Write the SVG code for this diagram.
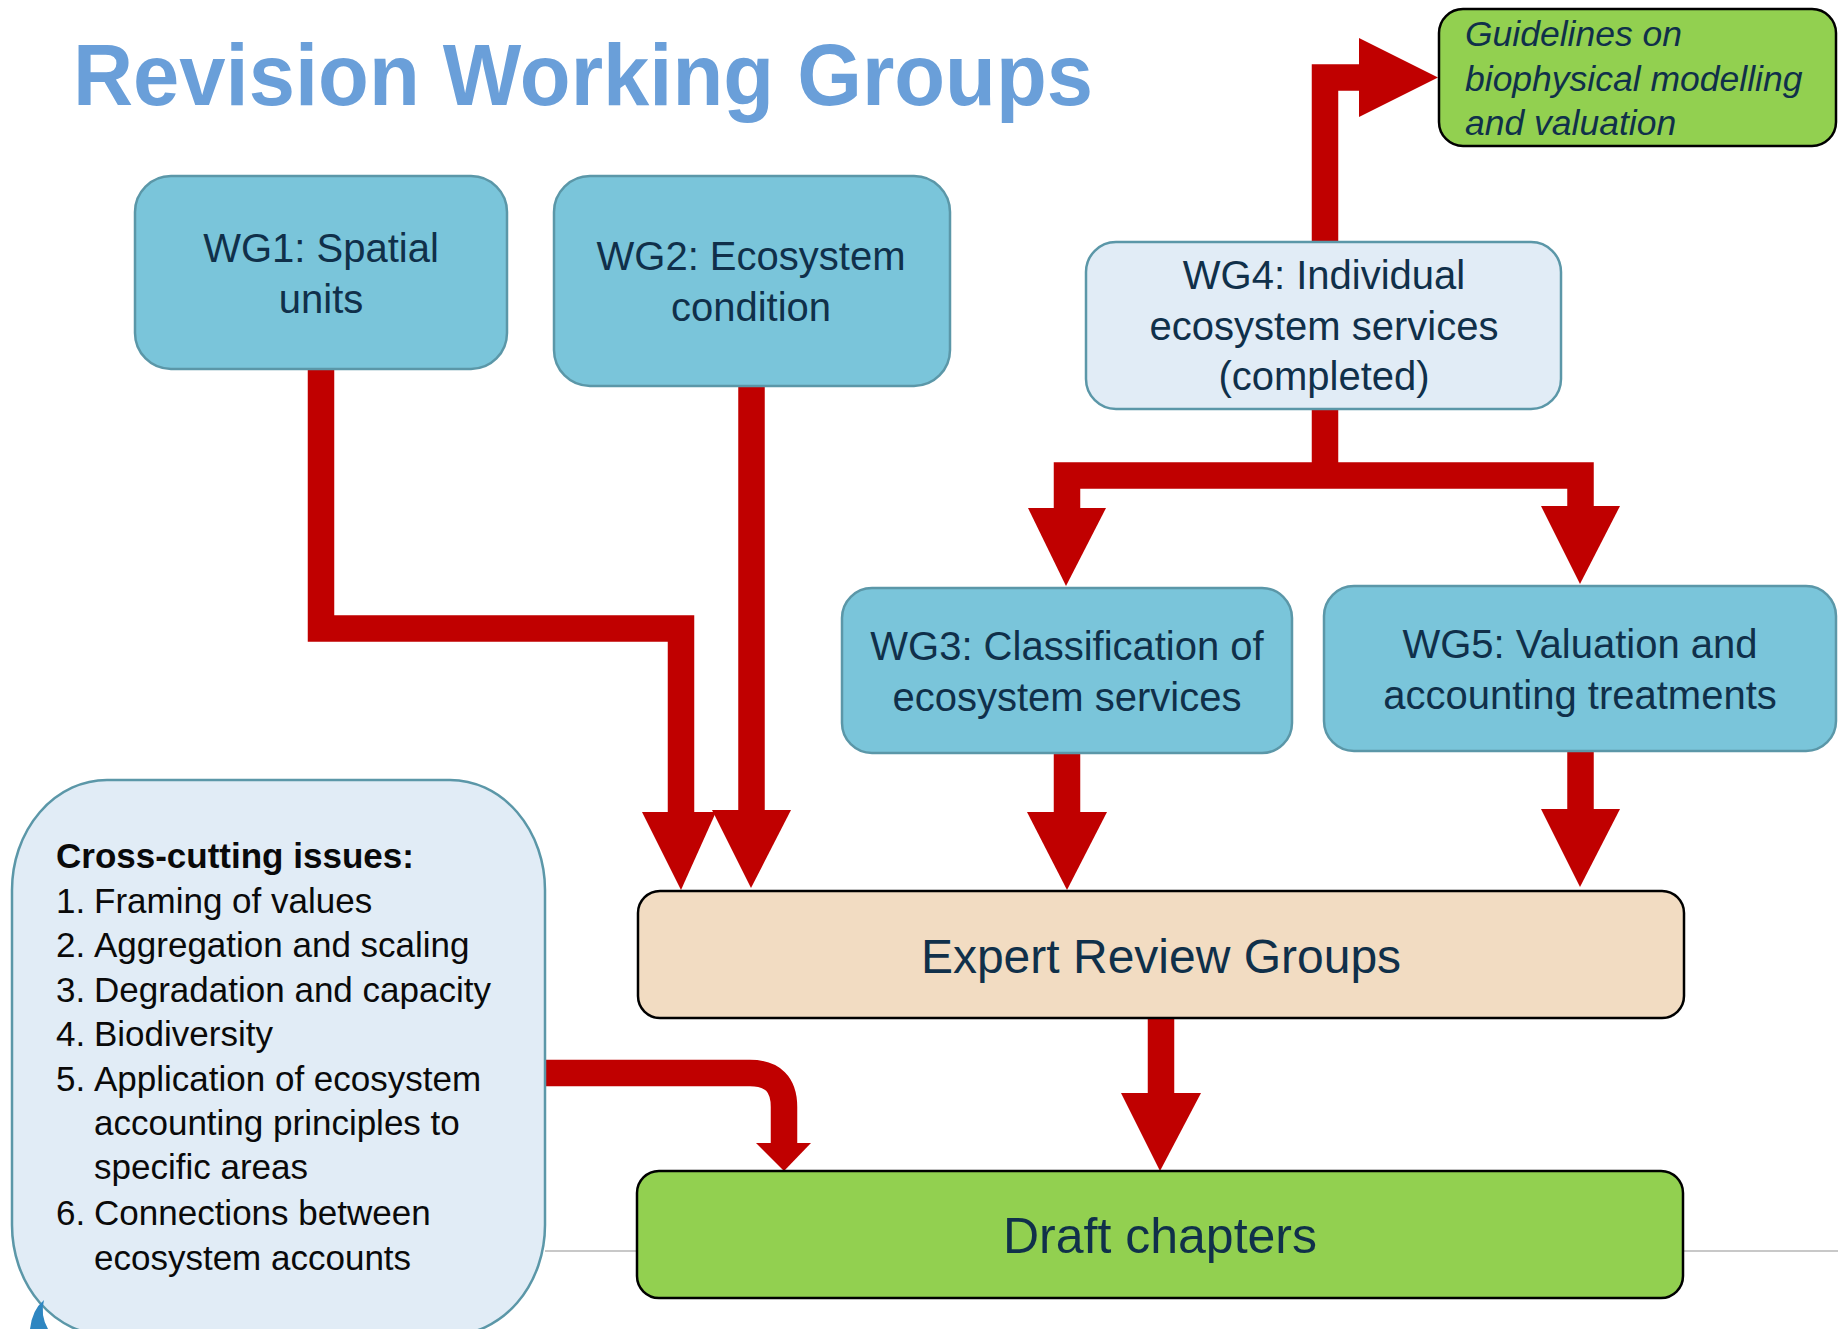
<svg xmlns="http://www.w3.org/2000/svg" width="1843" height="1329" viewBox="0 0 1843 1329">
<defs>
<style>
.wg{fill:#7AC5DA;stroke:#5B97A8;stroke-width:2.5}
.lb{fill:#E1ECF6;stroke:#5B97A8;stroke-width:2.5}
.blk{stroke:#000;stroke-width:2.5}
.t{font-family:"Liberation Sans",Arial,sans-serif;fill:#10304A}
.c40{font-size:40px;text-anchor:middle}
.li{font-family:"Liberation Sans",Arial,sans-serif;font-size:35px;fill:#0A0A0A}
.con{fill:none;stroke:#C00000;stroke-width:26.5;stroke-linejoin:miter;stroke-linecap:butt}
.ah{fill:#C00000}
</style>
</defs>
<rect width="1843" height="1329" fill="#FFFFFF"/>
<line x1="545" y1="1251" x2="1838" y2="1251" stroke="#C8C8C8" stroke-width="2"/>
<text x="73" y="105" font-family="'Liberation Sans',Arial,sans-serif" font-weight="bold" font-size="88" fill="#6A9FD9" textLength="1020" lengthAdjust="spacingAndGlyphs">Revision Working Groups</text>

<g id="connectors">
<path class="con" d="M321 369 V628.5 H681 V812"/>
<path class="con" d="M751.5 386 V810"/>
<path class="con" d="M1067 753 V812"/>
<path class="con" d="M1580.5 751 V810"/>
<path class="con" d="M1161 1018 V1094"/>
<path class="con" d="M545 1073 H750 Q784 1073 784 1107 V1144"/>
<path class="con" d="M1325 242 V77.5 H1360"/>
<path class="con" d="M1325 409 V475.5"/>
<path class="con" d="M1067 509 V475.5 H1580.5 V507"/>
<polygon class="ah" points="642,812 716,812 681,890"/>
<polygon class="ah" points="712,810 791,810 751,888"/>
<polygon class="ah" points="1027,812 1107,812 1067,890"/>
<polygon class="ah" points="1541,809 1620,809 1580,887"/>
<polygon class="ah" points="1121,1093 1201,1093 1160,1171"/>
<polygon class="ah" points="756,1143 811,1143 784,1171"/>
<polygon class="ah" points="1028,508 1106,508 1066,586"/>
<polygon class="ah" points="1541,506 1620,506 1580,584"/>
<polygon class="ah" points="1359,38 1438,77.5 1359,117"/>
</g>

<g id="guidelines">
<rect x="1439" y="9" width="397" height="137" rx="24" fill="#92D050" class="blk"/>
<text class="t" font-style="italic" font-size="35.5"><tspan x="1465" y="46">Guidelines on</tspan><tspan x="1465" y="91">biophysical modelling</tspan><tspan x="1465" y="135">and valuation</tspan></text>
</g>

<g id="wg1">
<rect x="135" y="176" width="372" height="193" rx="36" class="wg"/>
<text class="t c40"><tspan x="321" y="262">WG1: Spatial</tspan><tspan x="321" y="313">units</tspan></text>
</g>

<g id="wg2">
<rect x="554" y="176" width="396" height="210" rx="36" class="wg"/>
<text class="t c40"><tspan x="751" y="270">WG2: Ecosystem</tspan><tspan x="751" y="321">condition</tspan></text>
</g>

<g id="wg4">
<rect x="1086" y="242" width="475" height="167" rx="30" class="lb"/>
<text class="t c40"><tspan x="1324" y="289">WG4: Individual</tspan><tspan x="1324" y="340">ecosystem services</tspan><tspan x="1324" y="390">(completed)</tspan></text>
</g>

<g id="wg3">
<rect x="842" y="588" width="450" height="165" rx="30" class="wg"/>
<text class="t c40"><tspan x="1067" y="660">WG3: Classification of</tspan><tspan x="1067" y="711">ecosystem services</tspan></text>
</g>

<g id="wg5">
<rect x="1324" y="586" width="512" height="165" rx="30" class="wg"/>
<text class="t c40"><tspan x="1580" y="658">WG5: Valuation and</tspan><tspan x="1580" y="709">accounting treatments</tspan></text>
</g>

<g id="expert">
<rect x="638" y="891" width="1046" height="127" rx="22" fill="#F2DCC2" class="blk"/>
<text class="t" x="1161" y="973" font-size="48" text-anchor="middle">Expert Review Groups</text>
</g>

<g id="draft">
<rect x="637" y="1171" width="1046" height="127" rx="22" fill="#92D050" class="blk"/>
<text class="t" x="1160" y="1253" font-size="50" text-anchor="middle">Draft chapters</text>
</g>

<g id="crosscutting">
<rect x="12" y="780" width="533" height="555" rx="95" ry="110" class="lb"/>
<text class="li" x="56" y="868" font-weight="bold" font-size="31">Cross-cutting issues:</text>
<text class="li" x="56" y="913">1.</text><text class="li" x="94" y="913">Framing of values</text>
<text class="li" x="56" y="957">2.</text><text class="li" x="94" y="957">Aggregation and scaling</text>
<text class="li" x="56" y="1002">3.</text><text class="li" x="94" y="1002">Degradation and capacity</text>
<text class="li" x="56" y="1046">4.</text><text class="li" x="94" y="1046">Biodiversity</text>
<text class="li" x="56" y="1091">5.</text><text class="li" x="94" y="1091">Application of ecosystem</text>
<text class="li" x="94" y="1135">accounting principles to</text>
<text class="li" x="94" y="1179">specific areas</text>
<text class="li" x="56" y="1225">6.</text><text class="li" x="94" y="1225">Connections between</text>
<text class="li" x="94" y="1270">ecosystem accounts</text>
</g>
<path d="M30 1329 Q32 1310 44 1300 Q40 1315 48 1329 Z" fill="#2E86C1"/>
</svg>
